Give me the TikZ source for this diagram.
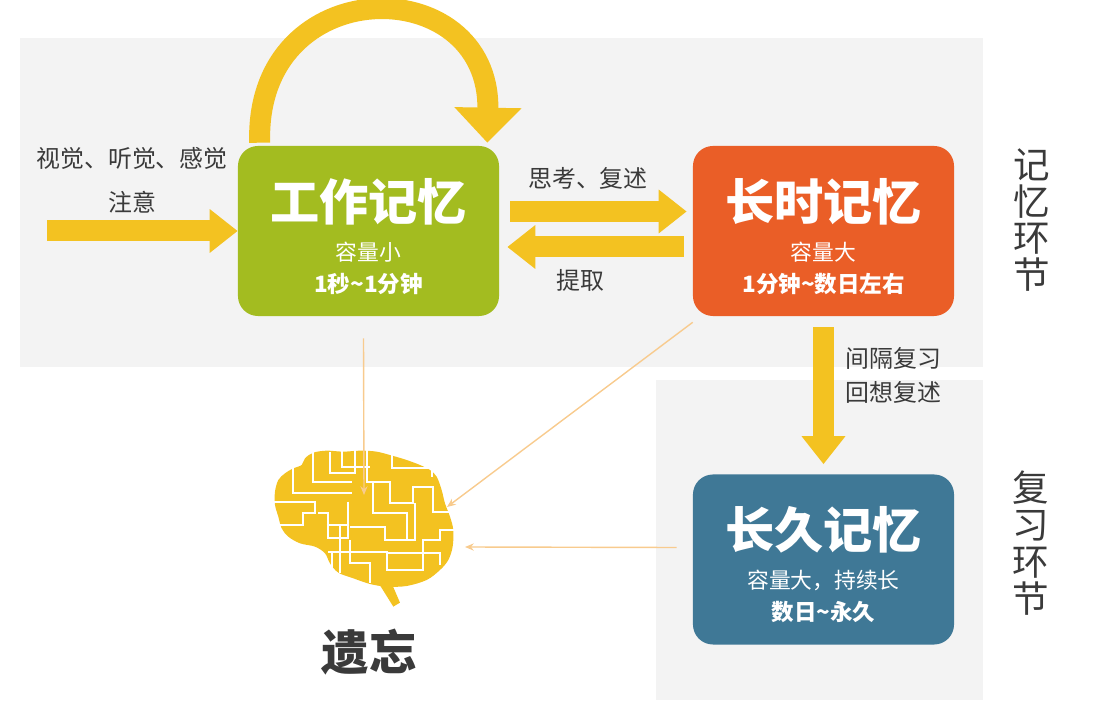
\documentclass[tikz,border=0pt]{standalone}
\usepackage{fontspec}
\setmainfont{Noto Sans CJK SC}
\usetikzlibrary{arrows.meta,positioning,calc}
\definecolor{bggray}{HTML}{F3F3F3}
\definecolor{wmgreen}{HTML}{A3BC20}
\definecolor{ltmorange}{HTML}{EA5E27}
\definecolor{pmblue}{HTML}{3F7896}
\definecolor{arrowyellow}{HTML}{F3C221}
\definecolor{thinorange}{HTML}{F8CB8E}
\definecolor{txtgray}{HTML}{3A3A3A}
\tikzset{
	membox/.style={rounded corners=0.5cm,minimum width=6.525cm,minimum height=4.25cm,inner sep=0pt},
	ttl/.style={text=white,inner sep=0pt,font=\fontsize{35}{36}\selectfont\bfseries},
	subttl/.style={text=white,inner sep=0pt,font=\fontsize{15.5}{16}\selectfont},
	dur/.style={text=white,inner sep=0pt,font=\fontsize{16}{17}\selectfont\bfseries},
	lbl/.style={text=txtgray,inner sep=0pt,font=\fontsize{17}{18}\selectfont},
	sidelbl/.style={text=txtgray,inner sep=0pt,align=center,font=\fontsize{26}{26.2}\selectfont},
	blockarrow/.style={draw=arrowyellow,line width=0.525cm,-{Triangle[width=1.05cm,length=0.7cm]}},
	thinline/.style={draw=thinorange,line width=1pt,-{Stealth[length=0.22cm,width=0.18cm]}},
}
\begin{document}
\begin{tikzpicture}[x=0.025cm,y=-0.025cm]
	\useasboundingbox (0,0) rectangle (1100,714);
	% gray areas
	\fill[bggray] (20,38) rectangle (983,367);
	\fill[bggray] (656,380) rectangle (983,700);
	% boxes
	\node[membox,fill=wmgreen] (wm) at (368.5,231) {};
	\node[membox,fill=ltmorange] (ltm) at (823.5,231) {};
	\node[membox,fill=pmblue] (pm) at (823.5,559.5) {};
	% yellow arrows
	\coordinate (src) at (47,231);
	\draw[blockarrow] (src) -- (wm.west);
	\draw[blockarrow] ([shift={(11,-19.5)}]wm.east) -- ([shift={(-6,-19.5)}]ltm.west);
	\draw[blockarrow] ([shift={(-9,16)}]ltm.west) -- ([shift={(8,16)}]wm.east);
	\draw[blockarrow] ([shift={(0,11)}]ltm.south) -- ([shift={(0,-10)}]pm.north);
	\draw[draw=arrowyellow,line width=0.525cm,-{Triangle[width=1.625cm,length=0.875cm]}]
		([shift={(22,-3)}]wm.north west) .. controls +(-5,-173) and +(3,-173) .. ([shift={(-12,-3)}]wm.north east);
	% brain
	\begin{scope}[shift={(260,440)},scale=0.3333]
		\fill[arrowyellow] plot[smooth cycle,tension=0.55] coordinates {(45,155) (55,120) (75,100) (100,85) (125,75) (135,55) (160,38) (200,32) (250,35) (300,32) (350,35) (400,48) (440,60) (480,75) (510,90) (530,110) (545,150) (555,190) (570,230) (580,270) (578,320) (565,360) (540,390) (500,420) (440,438) (380,440) (330,432) (280,415) (235,398) (210,370) (195,340) (165,320) (120,310) (85,290) (65,265) (55,230) (45,195)};
		\fill[arrowyellow] (350,420) -- (395,430) -- (420,488) -- (400,500) -- cycle;
		\begin{scope}[draw=white,line width=1.6pt]
			\draw (100,80) -- (100,160) -- (275,160);
			\draw (160,35) -- (160,125) -- (275,125);
			\draw (210,35) -- (210,100) -- (285,100) -- (285,30);
			\draw (245,30) -- (245,80) -- (330,80);
			\draw (320,30) -- (320,125) -- (390,125) -- (390,190) -- (460,190) -- (460,140) -- (520,140) -- (520,215) -- (590,215);
			\draw (395,40) -- (395,85) -- (515,85) -- (515,110);
			\draw (340,125) -- (340,220) -- (440,220) -- (440,300);
			\draw (40,185) -- (165,185) -- (165,220) -- (130,220) -- (130,255) -- (60,255);
			\draw (265,185) -- (265,295) -- (205,295) -- (205,220) -- (175,220);
			\draw (240,255) -- (240,400);
			\draw (200,255) -- (265,255);
			\draw (270,260) -- (375,260) -- (375,300) -- (465,300) -- (465,190);
			\draw (205,335) -- (380,335) -- (380,390) -- (490,390) -- (490,300) -- (540,300) -- (540,270) -- (590,270);
			\draw (270,300) -- (270,370) -- (330,370) -- (330,430);
			\draw (380,340) -- (540,340) -- (540,375);
			\draw (215,340) -- (215,395);
		\end{scope}
	\end{scope}
	\coordinate (brtop) at (364,495);
	\coordinate (brright) at (447,507);
	\coordinate (brside) at (465,547);
	% thin connectors to the brain
	\draw[thinline] ([shift={(-5,22)}]wm.south) -- (brtop);
	\draw[thinline] ([shift={(0,6)}]ltm.south west) -- (brright);
	\draw[thinline] ([shift={(-16,-12)}]pm.west) -- (brside);
	% box texts
	\node[ttl] (wmA) at (368.5,202) {工作记忆};
	\node[subttl] (wmB) at (368.5,252) {容量小};
	\node[dur] (wmC) at (368.5,284) {1秒\textasciitilde1分钟};
	\node[ttl] (ltmA) at (823.5,202) {长时记忆};
	\node[subttl] (ltmB) at (823.5,252) {容量大};
	\node[dur] (ltmC) at (823.5,284) {1分钟\textasciitilde 数日左右};
	\node[ttl] (pmA) at (823.5,530) {长久记忆};
	\node[subttl] (pmB) at (823.5,580) {容量大，持续长};
	\node[dur] (pmC) at (823.5,612) {数日\textasciitilde 永久};
	% labels
	\node[lbl] (sense) at (132,158) {视觉、听觉、感觉};
	\node[lbl] (attn) at (132,202) {注意};
	\node[lbl] (think) at (588,178) {思考、复述};
	\node[lbl] (recall) at (580,280) {提取};
	\node[lbl,anchor=west] (spaced) at (845,358) {间隔复习};
	\node[lbl,anchor=west] (rehearse) at (845,392) {回想复述};
	\node[sidelbl] (memstage) at (1032,220) {记\\忆\\环\\节};
	\node[sidelbl] (revstage) at (1031,543) {复\\习\\环\\节};
	\node[text=txtgray,inner sep=0pt,font=\fontsize{34}{35}\selectfont\bfseries] (forget) at (369,652) {遗忘};
\end{tikzpicture}
\end{document}
